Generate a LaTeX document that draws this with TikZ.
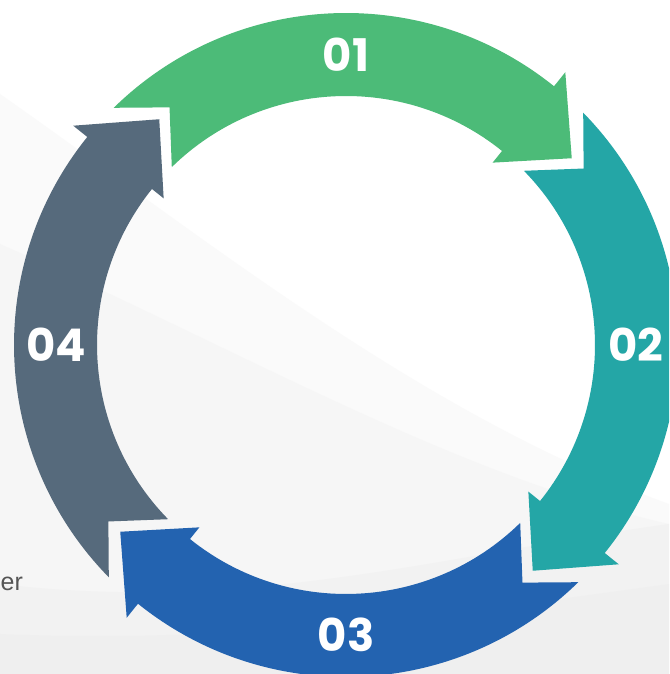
\documentclass[tikz,border=0pt]{standalone}
\usepackage{fontspec}
\setmainfont{Liberation Sans}
\newfontfamily\numfont{Poppins}
\definecolor{cgreen}{RGB}{76,187,120}
\definecolor{cteal}{RGB}{36,166,166}
\definecolor{cblue}{RGB}{35,99,176}
\definecolor{cgray}{RGB}{86,106,124}
\definecolor{swoosh}{RGB}{236,236,236}
\tikzset{
  numlabel/.style={text=white, font=\numfont\bfseries\fontsize{45}{45}\selectfont, inner sep=0pt, anchor=center},
  sidetext/.style={text={rgb,255:red,85;green,85;blue,85}, font=\fontsize{25}{25}\selectfont, inner sep=0pt, anchor=base west}
}
\begin{document}
\begin{tikzpicture}[x=1pt,y=1pt]
\useasboundingbox (0,0) rectangle (669,674);
\clip (0,0) rectangle (669,674);
\fill[white] (0,0) rectangle (669,674);
% background swooshes
\fill[swoosh, opacity=0.25] (0,580) .. controls (200,440) and (420,260) .. (669,170) -- (669,0) -- (0,0) -- cycle;
\fill[swoosh, opacity=0.25] (0,430) .. controls (230,330) and (450,200) .. (669,150) -- (669,0) -- (0,0) -- cycle;
\fill[swoosh, opacity=0.4] (0,90) .. controls (250,60) and (450,120) .. (669,150) -- (669,0) -- (0,0) -- cycle;
\fill[swoosh, opacity=0.4] (0,40) .. controls (250,30) and (450,60) .. (669,90) -- (669,0) -- (0,0) -- cycle;
% arrows
\begin{scope}[shift={(346,329)}]
\foreach \k/\c in {0/cgreen,1/cteal,2/cblue,3/cgray}{
  \pgfmathsetmacro\T{134.4-90*\k}
  \pgfmathsetmacro\N{126.6-90*\k}
  \pgfmathsetmacro\B{51.2-90*\k}
  \pgfmathsetmacro\P{39.6-90*\k}
  \fill[\c] (\T:332) arc[start angle=\T, end angle=\B, radius=332]
     -- (\B:350) -- (\P:293) -- (\B:234) -- (\B:249)
     arc[start angle=\B, end angle=\T, radius=249]
     -- (\N:296) -- cycle;
}
\node[numlabel] (l1) at (90:290) {01};
\node[numlabel] (l2) at (0:290) {02};
\node[numlabel] (l3) at (-90:290) {03};
\node[numlabel] (l4) at (180:290) {04};
\end{scope}
\node[sidetext] (er) at (0.5,83) {er};
\end{tikzpicture}
\end{document}
